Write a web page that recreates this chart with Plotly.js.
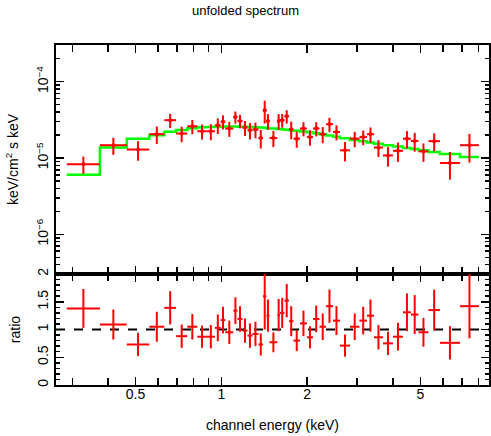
<!DOCTYPE html>
<html>
<head>
<meta charset="utf-8">
<script src="https://cdn.plot.ly/plotly-3.0.1.min.js"></script>
<style>
  body { margin: 0; background: white; }
  #plot { width: 491px; height: 436px; }
</style>
</head>
<body>
<div id="plot"></div>
<script>
// Bin edges of the grouped channels (keV)
const binEdges = [0.287, 0.375, 0.466, 0.559, 0.631, 0.694, 0.760, 0.824, 0.889, 0.950,
  0.995, 1.033, 1.102, 1.140, 1.187, 1.236, 1.286, 1.351, 1.401, 1.440,
  1.476, 1.573, 1.607, 1.666, 1.728, 1.792, 1.889, 1.998, 2.098, 2.211,
  2.330, 2.466, 2.609, 2.829, 3.054, 3.245, 3.434, 3.693, 4.004, 4.341,
  4.630, 4.920, 5.333, 5.853, 6.879, 8.022];

// Unfolded data (keV/cm^2 s keV)
const flux = [8.3e-6, 1.47e-5, 1.29e-5, 2.05e-5, 3.13e-5, 2.09e-5, 2.60e-5, 2.24e-5, 2.24e-5, 2.68e-5,
  2.99e-5, 2.43e-5, 3.44e-5, 3.05e-5, 2.50e-5, 2.31e-5, 2.36e-5, 1.83e-5, 4.22e-5, 3.05e-5,
  1.83e-5, 3.05e-5, 3.13e-5, 3.52e-5, 2.38e-5, 1.79e-5, 2.43e-5, 1.88e-5, 2.43e-5, 2.05e-5,
  2.77e-5, 2.19e-5, 1.26e-5, 1.79e-5, 1.88e-5, 2.05e-5, 1.37e-5, 1.08e-5, 1.24e-5, 1.79e-5,
  1.67e-5, 1.22e-5, 1.66e-5, 8.6e-6, 1.47e-5];
const fluxErr = [2.1e-6, 3.7e-6, 3.7e-6, 5.3e-6, 6.6e-6, 4.8e-6, 5.5e-6, 5.0e-6, 5.3e-6, 6.2e-6,
  6.2e-6, 5.4e-6, 6.2e-6, 6.0e-6, 5.6e-6, 5.6e-6, 5.5e-6, 5.0e-6, 1.4e-5, 7.1e-6,
  4.4e-6, 7.0e-6, 6.4e-6, 7.0e-6, 6.2e-6, 4.3e-6, 5.1e-6, 4.3e-6, 5.1e-6, 4.9e-6,
  5.9e-6, 4.9e-6, 3.6e-6, 4.1e-6, 4.1e-6, 4.6e-6, 3.4e-6, 3.1e-6, 3.5e-6, 4.6e-6,
  4.6e-6, 3.3e-6, 4.4e-6, 3.4e-6, 6.0e-6];

// Folded model per bin
const model = [6.05e-6, 1.37e-5, 1.78e-5, 1.98e-5, 2.20e-5, 2.33e-5, 2.45e-5, 2.52e-5, 2.55e-5, 2.57e-5,
  2.58e-5, 2.58e-5, 2.58e-5, 2.57e-5, 2.56e-5, 2.54e-5, 2.52e-5, 2.50e-5, 2.48e-5, 2.46e-5,
  2.43e-5, 2.40e-5, 2.37e-5, 2.34e-5, 2.31e-5, 2.27e-5, 2.23e-5, 2.17e-5, 2.11e-5, 2.04e-5,
  1.97e-5, 1.90e-5, 1.81e-5, 1.72e-5, 1.65e-5, 1.60e-5, 1.54e-5, 1.47e-5, 1.41e-5, 1.35e-5,
  1.31e-5, 1.26e-5, 1.20e-5, 1.13e-5, 1.03e-5];

// Data / model ratio
const ratio = [1.38, 1.09, 0.73, 1.05, 1.39, 0.88, 1.05, 0.87, 0.87, 1.03,
  1.17, 0.95, 1.34, 1.19, 0.98, 0.89, 0.92, 0.73, 1.60, 1.25,
  0.77, 1.26, 1.30, 1.52, 1.15, 0.80, 1.11, 0.86, 1.19, 1.05,
  1.42, 1.16, 0.71, 1.05, 1.16, 1.25, 0.86, 0.75, 0.87, 1.31,
  1.27, 0.95, 1.35, 0.76, 1.42];
const ratioErr = [0.35, 0.27, 0.21, 0.27, 0.30, 0.21, 0.23, 0.20, 0.21, 0.24,
  0.24, 0.21, 0.24, 0.23, 0.22, 0.22, 0.22, 0.20, 0.60, 0.29,
  0.18, 0.29, 0.27, 0.30, 0.27, 0.19, 0.23, 0.20, 0.24, 0.24,
  0.30, 0.26, 0.20, 0.24, 0.25, 0.29, 0.22, 0.21, 0.25, 0.34,
  0.35, 0.26, 0.37, 0.30, 0.58];

const xTickVals = [0.5, 1, 2, 5];
const xTickText = ["0.5", "1", "2", "5"];
const xMinorVals = [0.3, 0.4, 0.6, 0.7, 0.8, 0.9, 3, 4, 6, 7, 8];

// bin centres and half widths
let centers = [], exLo = [], exHi = [];
for (let i = 0; i < binEdges.length - 1; i++) {
  let c = Math.sqrt(binEdges[i] * binEdges[i + 1]);
  centers.push(c);
  exLo.push(c - binEdges[i]);
  exHi.push(binEdges[i + 1] - c);
}

let yMinor = [];
for (let d = -7; d <= -4; d++) {
  for (let k = 2; k <= 9; k++) yMinor.push(k * Math.pow(10, d));
}

const red = "#ff0000";
const font = "Liberation Sans, Arial, sans-serif";

let traces = [
  {
    x: binEdges,
    y: model.concat([model[model.length - 1]]),
    xaxis: "x", yaxis: "y",
    mode: "lines",
    line: { shape: "hv", color: "#00ff00", width: 2.5 },
    hoverinfo: "skip"
  },
  {
    x: centers, y: flux,
    xaxis: "x", yaxis: "y",
    mode: "markers",
    marker: { color: red, size: 4 },
    error_x: { type: "data", symmetric: false, array: exHi, arrayminus: exLo, color: red, thickness: 2, width: 0 },
    error_y: { type: "data", array: fluxErr, color: red, thickness: 2, width: 0 }
  },
  {
    x: centers, y: ratio,
    xaxis: "x2", yaxis: "y2",
    mode: "markers",
    marker: { color: red, size: 1 },
    error_x: { type: "data", symmetric: false, array: exHi, arrayminus: exLo, color: red, thickness: 2, width: 0 },
    error_y: { type: "data", array: ratioErr, color: red, thickness: 2, width: 0 }
  }
];

const split = 111 / 340;
const xRange = [Math.log10(0.263), Math.log10(8.7)];

const axisCommon = {
  showline: true, linecolor: "black", linewidth: 2,
  ticks: "inside", tickcolor: "black", tickwidth: 1.5,
  mirror: "allticks", showgrid: false, zeroline: false,
  tickfont: { family: font, size: 14, color: "black" }
};

const xMinor = { tickmode: "array", tickvals: xMinorVals, ticks: "inside", ticklen: 7, tickcolor: "black", tickwidth: 1.5 };

let layout = {
  width: 491, height: 436,
  margin: { l: 56, r: 2, t: 45, b: 51 },
  paper_bgcolor: "white", plot_bgcolor: "white",
  showlegend: false,
  font: { family: font, color: "black" },
  title: { text: "unfolded spectrum", font: { family: font, size: 13 }, x: 0.5, xref: "container", y: 0.977, yanchor: "middle" },
  xaxis: Object.assign({}, axisCommon, {
    type: "log", range: xRange, anchor: "y", matches: "x2",
    tickmode: "array", tickvals: xTickVals, ticktext: xTickText,
    ticklen: 8, showticklabels: false, minor: xMinor
  }),
  xaxis2: Object.assign({}, axisCommon, {
    type: "log", range: xRange, anchor: "y2",
    tickmode: "array", tickvals: xTickVals, ticktext: xTickText,
    ticklen: 8, ticklabelstandoff: -5, minor: xMinor,
    title: { text: "channel energy (keV)", font: { family: font, size: 14 }, standoff: 19 }
  }),
  yaxis: Object.assign({}, axisCommon, {
    type: "log", range: [-6.52, -3.52], domain: [split, 1], anchor: "x",
    tickmode: "array", tickvals: [1e-6, 1e-5, 1e-4],
    ticktext: ["10<sup>\u22126</sup>", "10<sup>\u22125</sup>", "10<sup>\u22124</sup>"],
    ticklen: 8, tickangle: -90,
    minor: { tickmode: "array", tickvals: yMinor, ticks: "inside", ticklen: 4, tickcolor: "black", tickwidth: 1.5 },
    title: { text: "keV/cm<sup>2</sup> s keV", font: { family: font, size: 14 }, standoff: 12 }
  }),
  yaxis2: Object.assign({}, axisCommon, {
    range: [0, 2], domain: [0, split], anchor: "x2",
    tickmode: "array", tickvals: [0, 0.5, 1, 1.5, 2], ticktext: ["0", "0.5", "1", "1.5", "2"],
    ticklen: 8, tickangle: -90,
    minor: { dtick: 0.1, ticks: "inside", ticklen: 4, tickcolor: "black", tickwidth: 1.5 },
    title: { text: "ratio", font: { family: font, size: 14 }, standoff: 12 }
  }),
  shapes: [
    { type: "line", xref: "x2 domain", yref: "y2", x0: 0, x1: 1, y0: 1, y1: 1,
      line: { color: "black", width: 2, dash: "9px,9px" }, layer: "below" }
  ]
};

Plotly.newPlot("plot", traces, layout, { staticPlot: true });
</script>
</body>
</html>
